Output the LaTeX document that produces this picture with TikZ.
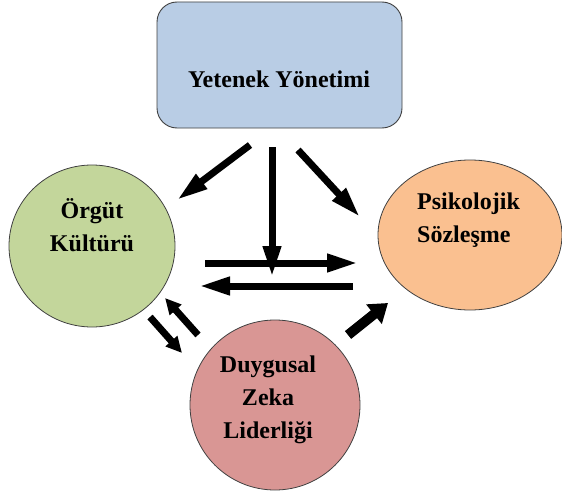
\documentclass[tikz,border=0pt]{standalone}
\usepackage{fontspec}
\setmainfont{Liberation Serif}
\usetikzlibrary{arrows.meta,shapes.geometric}
\definecolor{cblue}{HTML}{B9CDE5}
\definecolor{cgreen}{HTML}{C3D69B}
\definecolor{corange}{HTML}{FAC090}
\definecolor{cred}{HTML}{D99694}
\definecolor{cborder}{HTML}{404040}
\begin{document}
\begin{tikzpicture}[x=1pt,y=-1pt,
  bubble/.style={ellipse, draw=cborder, line width=0.8pt, inner sep=0pt},
  lbl/.style={font=\bfseries\fontsize{24}{33}\selectfont, inner sep=0pt},
  bigarr/.style={line width=7pt, -{Triangle[length=31pt,width=17pt]}},
  smallarr/.style={line width=7pt, -{Triangle[length=16pt,width=15pt]}},
  thickarr/.style={line width=10pt, -{Triangle[length=18pt,width=24pt]}}]
\useasboundingbox (0,0) rectangle (562,495);
\node[draw=cborder, line width=0.9pt, rounded corners=20pt, fill=cblue,
      minimum width=245pt, minimum height=126pt] (yet) at (279.5,65) {};
\node[bubble, fill=cgreen, minimum width=166pt, minimum height=162pt] (org) at (92,246) {};
\node[bubble, fill=corange, minimum width=184pt, minimum height=150pt] (psi) at (470,235) {};
\node[bubble, fill=cred, minimum width=170pt, minimum height=170pt] (duy) at (275,405) {};
\node[lbl] (tyet) at (279,79) {Yetenek Yönetimi};
\node[lbl, align=center] (torg) at (92,225) {Örgüt\\Kültürü};
\node[lbl, align=left, anchor=west] (tpsi) at (417,220) {Psikolojik\\Sözleşme};
\node[lbl, align=center] (tduy) at (268,400) {Duygusal\\Zeka\\Liderliği};
\coordinate (a1s) at (250,145); \coordinate (a1e) at (177,200);
\coordinate (a2s) at (272,147); \coordinate (a2e) at (272,277);
\coordinate (a3s) at (298,150); \coordinate (a3e) at (360,217);
\coordinate (a4s) at (205,263); \coordinate (a4e) at (358,263);
\coordinate (a5s) at (353,286); \coordinate (a5e) at (199,286);
\coordinate (a6s) at (150,317); \coordinate (a6e) at (182,353);
\coordinate (a7s) at (198,335); \coordinate (a7e) at (165,298);
\coordinate (a8s) at (348,335); \coordinate (a8e) at (388,303);
\draw[bigarr] (a1s) -- (a1e);
\draw[bigarr] (a2s) -- (a2e);
\draw[bigarr] (a3s) -- (a3e);
\draw[bigarr] (a4s) -- (a4e);
\draw[bigarr] (a5s) -- (a5e);
\draw[smallarr] (a6s) -- (a6e);
\draw[smallarr] (a7s) -- (a7e);
\draw[thickarr] (a8s) -- (a8e);
\end{tikzpicture}
\end{document}
